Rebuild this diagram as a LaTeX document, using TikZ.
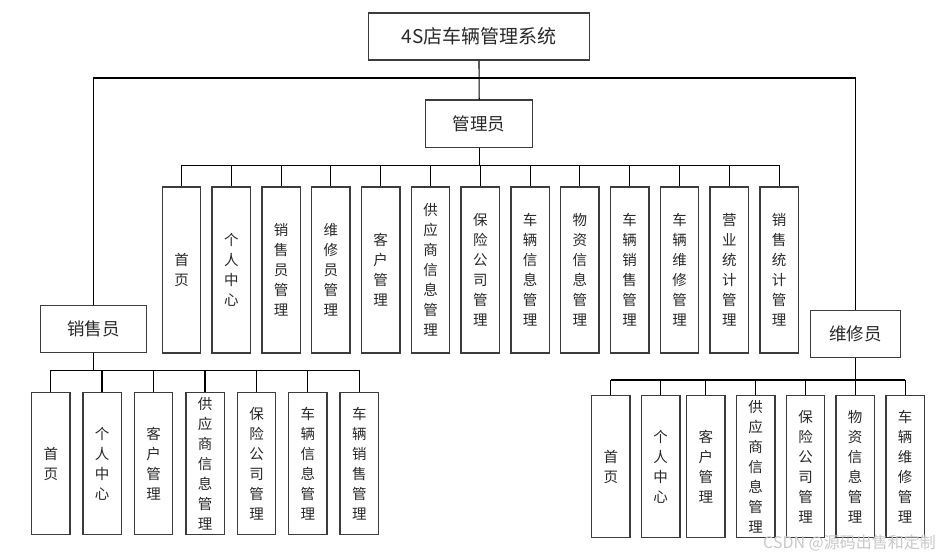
\documentclass[tikz,border=0pt]{standalone}
\usepackage{fontspec}
\newfontfamily\cjk{Noto Sans CJK SC}
\definecolor{boxline}{RGB}{60,60,60}
\definecolor{txt}{RGB}{40,40,40}
\definecolor{wm}{RGB}{200,200,200}
\begin{document}
\begin{tikzpicture}[x=1pt,y=-1pt,
  conn/.style={draw=black,line width=1.1pt},
  rolebox/.style={draw=boxline,line width=1.4pt,inner sep=0pt,minimum height=47pt,
     text=txt,font=\cjk\fontsize{17.5}{20}\selectfont},
  funcbox/.style={draw=boxline,line width=1.4pt,inner sep=0pt,minimum width=38.4pt,
     align=center,text=txt,font=\cjk\fontsize{14.5}{20}\selectfont}]
\useasboundingbox (0,0) rectangle (949,559);
% top
\node[rolebox,minimum width=221pt,font=\cjk\fontsize{19}{22}\selectfont] (top) at (479,36.7) {4S店车辆管理系统};
\node[rolebox,minimum width=107pt] (admin) at (479.2,123.7) {管理员};
\node[rolebox,minimum width=106pt] (sales) at (93.7,329.2) {销售员};
\node[rolebox,minimum width=90pt] (maint) at (855.5,333.7) {维修员};
\coordinate (topbus) at (479,78);
\draw[conn] (top.south) -- (admin.north);
\draw[conn] (sales.north) |- (topbus) -| (maint.north);
% admin functions
\foreach \t [count=\i] in {{首\\页},{个\\人\\中\\心},{销\\售\\员\\管\\理},{维\\修\\员\\管\\理},{客\\户\\管\\理},{供\\应\\商\\信\\息\\管\\理},{保\\险\\公\\司\\管\\理},{车\\辆\\信\\息\\管\\理},{物\\资\\信\\息\\管\\理},{车\\辆\\销\\售\\管\\理},{车\\辆\\维\\修\\管\\理},{营\\业\\统\\计\\管\\理},{销\\售\\统\\计\\管\\理}}{
  \pgfmathsetmacro\xx{181.5+49.8*(\i-1)}
  \node[funcbox,minimum height=166pt] (a\i) at (\xx,270) {\t};
}
\coordinate (abus) at (479.2,165.3);
\draw[conn] (admin.south) -- (abus);
\draw[conn] (a1.north |- abus) -- (a13.north |- abus);
\foreach \i in {1,...,13}{\draw[conn] (a\i.north |- abus) -- (a\i.north);}
% sales functions
\foreach \xx/\t [count=\i] in {50.8/{首\\页},102/{个\\人\\中\\心},153.5/{客\\户\\管\\理},205/{供\\应\\商\\信\\息\\管\\理},256.5/{保\\险\\公\\司\\管\\理},307.8/{车\\辆\\信\\息\\管\\理},359.3/{车\\辆\\销\\售\\管\\理}}{
  \node[funcbox,minimum height=141.6pt] (s\i) at (\xx,463.5) {\t};
}
\coordinate (sbus) at (93.7,370.3);
\draw[conn] (sales.south) -- (sbus);
\draw[conn] (s1.north |- sbus) -- (s7.north |- sbus);
\foreach \i in {1,...,7}{\draw[conn] (s\i.north |- sbus) -- (s\i.north);}
% maintenance functions
\foreach \xx/\t [count=\i] in {610.8/{首\\页},660.7/{个\\人\\中\\心},705.8/{客\\户\\管\\理},755.7/{供\\应\\商\\信\\息\\管\\理},805.5/{保\\险\\公\\司\\管\\理},855.2/{物\\资\\信\\息\\管\\理},905.2/{车\\辆\\维\\修\\管\\理}}{
  \node[funcbox,minimum height=142pt] (m\i) at (\xx,466.7) {\t};
}
\coordinate (mbus) at (855.5,380);
\draw[conn] (maint.south) -- (mbus);
\draw[conn] (m1.north |- mbus) -- (m7.north |- mbus);
\foreach \i in {1,...,7}{\draw[conn] (m\i.north |- mbus) -- (m\i.north);}
% watermark
\node[text=wm,font=\cjk\fontsize{16}{18}\selectfont,inner sep=0pt] (wmk) at (849.5,543) {CSDN @源码出售和定制};
\end{tikzpicture}
\end{document}
